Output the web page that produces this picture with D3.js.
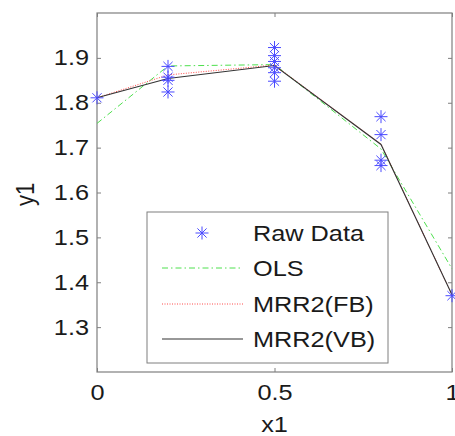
<!DOCTYPE html>
<html><head><meta charset="utf-8">
<script src="https://cdn.jsdelivr.net/npm/d3@7"></script>
<style>body{margin:0;background:#fff;overflow:hidden}svg{display:block}</style>
</head><body>
<script>
const rawX = [0, 0.2,0.2,0.2,0.2, 0.5,0.5,0.5,0.5,0.5,0.5, 0.8,0.8,0.8,0.8, 1];
const rawY = [1.811, 1.881,1.857,1.850,1.824, 1.923,1.905,1.892,1.878,1.867,1.848, 1.769,1.729,1.672,1.660, 1.370];
const fitX = [0, 0.2, 0.5, 0.8, 1];
const olsY = [1.754, 1.882, 1.885, 1.697, 1.430];
const fbY  = [1.811, 1.862, 1.884, 1.708, 1.372];
const vbY  = [1.811, 1.854, 1.883, 1.707, 1.372];
const xTicks = [0, 0.5, 1];
const xTickLabels = ["0", "0.5", "1"];
const yTicks = [1.3, 1.4, 1.5, 1.6, 1.7, 1.8, 1.9];
const legendLabels = ["Raw Data", "OLS", "MRR2(FB)", "MRR2(VB)"];

const W = 455, H = 436;
const L = 97, R = 452, T = 13, B = 372;
const SX = 1.15; // horizontal stretch of the reference's text
const svg = d3.select("body").append("svg").attr("width", W).attr("height", H);
const x = d3.scaleLinear().domain([0, 1]).range([L, R]);
const y = d3.scaleLinear().domain([1.2, 2.0]).range([B, T]);
const font = "'Liberation Sans', Arial, sans-serif";
const axisCol = "#7f7f7f";
const txtCol = "#1a1a1a";

function stretch(sel) {
  sel.each(function () {
    const t = d3.select(this);
    const x0 = +t.attr("x") || 0;
    t.attr("transform", `translate(${x0 * (1 - SX)},0) scale(${SX},1)`);
  });
}

// box
svg.append("rect").attr("x", L).attr("y", T).attr("width", R - L).attr("height", B - T)
  .attr("fill", "none").attr("stroke", axisCol).attr("stroke-width", 1.2);

// axes (inward ticks)
const gl = svg.append("g").attr("transform", `translate(${L},0)`)
  .call(d3.axisLeft(y).tickValues(yTicks).tickSize(-4).tickPadding(8).tickFormat(d3.format(".1f")));
const gr = svg.append("g").attr("transform", `translate(${R},0)`)
  .call(d3.axisRight(y).tickValues(yTicks).tickSize(-4).tickFormat(""));
const gb = svg.append("g").attr("transform", `translate(0,${B})`)
  .call(d3.axisBottom(x).tickValues(xTicks).tickSize(-4).tickPadding(12).tickFormat((d, i) => xTickLabels[i]));
const gt = svg.append("g").attr("transform", `translate(0,${T})`)
  .call(d3.axisTop(x).tickValues(xTicks).tickSize(-4).tickFormat(""));
[gl, gr, gb, gt].forEach(g => {
  g.select(".domain").remove();
  g.selectAll(".tick line").attr("stroke", axisCol);
  g.selectAll("text").attr("font-family", font).attr("font-size", 22).attr("fill", txtCol);
});
stretch(gl.selectAll("text"));
stretch(gb.selectAll("text"));

// axis labels
svg.append("text").attr("x", (L + R) / 2).attr("y", 432).attr("text-anchor", "middle")
  .attr("font-family", font).attr("font-size", 22).attr("fill", txtCol).text("x1").call(stretch);
svg.append("text").attr("transform", `translate(34,${(T + B) / 2 + 2}) scale(${SX},1) rotate(-90)`).attr("text-anchor", "middle")
  .attr("font-family", font).attr("font-size", 22).attr("fill", txtCol).text("y1");

const line = d3.line().x(d => x(d[0])).y(d => y(d[1]));
const styles = [
  { col: "#4ee04e", dash: "6,3,1.5,3", w: 1 },
  { col: "#ff4a4a", dash: "1,1.5", w: 1 },
  { col: "#333333", dash: null, w: 1.1 }
];
[olsY, fbY, vbY].forEach((ys, i) => {
  svg.append("path").datum(fitX.map((v, j) => [v, ys[j]])).attr("d", line)
    .attr("fill", "none").attr("stroke", styles[i].col).attr("stroke-width", styles[i].w)
    .attr("stroke-dasharray", styles[i].dash);
});

// star markers
const starCol = "#4a4aff";
function star(g, cx, cy, r) {
  const d = r * Math.SQRT1_2;
  g.append("path").attr("d",
    `M${cx - r},${cy}L${cx + r},${cy}M${cx},${cy - r}L${cx},${cy + r}` +
    `M${cx - d},${cy - d}L${cx + d},${cy + d}M${cx - d},${cy + d}L${cx + d},${cy - d}`)
    .attr("stroke", starCol).attr("stroke-width", 1).attr("fill", "none");
}
const mg = svg.append("g");
rawX.forEach((v, i) => star(mg, x(v), y(rawY[i]), 6.5));

// legend
const lg = svg.append("g");
lg.append("rect").attr("x", 147).attr("y", 212).attr("width", 241).attr("height", 151)
  .attr("fill", "#fff").attr("stroke", axisCol).attr("stroke-width", 1);
const ly = [233, 268, 304, 339];
legendLabels.forEach((t, i) => {
  if (i === 0) star(lg, 202, ly[i], 6.5);
  else lg.append("line").attr("x1", 162).attr("x2", 243).attr("y1", ly[i]).attr("y2", ly[i])
    .attr("stroke", styles[i - 1].col).attr("stroke-width", styles[i - 1].w)
    .attr("stroke-dasharray", styles[i - 1].dash);
  lg.append("text").attr("x", 253).attr("y", ly[i] + 8).attr("font-family", font).attr("font-size", 22)
    .attr("fill", txtCol).text(t).call(stretch);
});
</script>
</body></html>
